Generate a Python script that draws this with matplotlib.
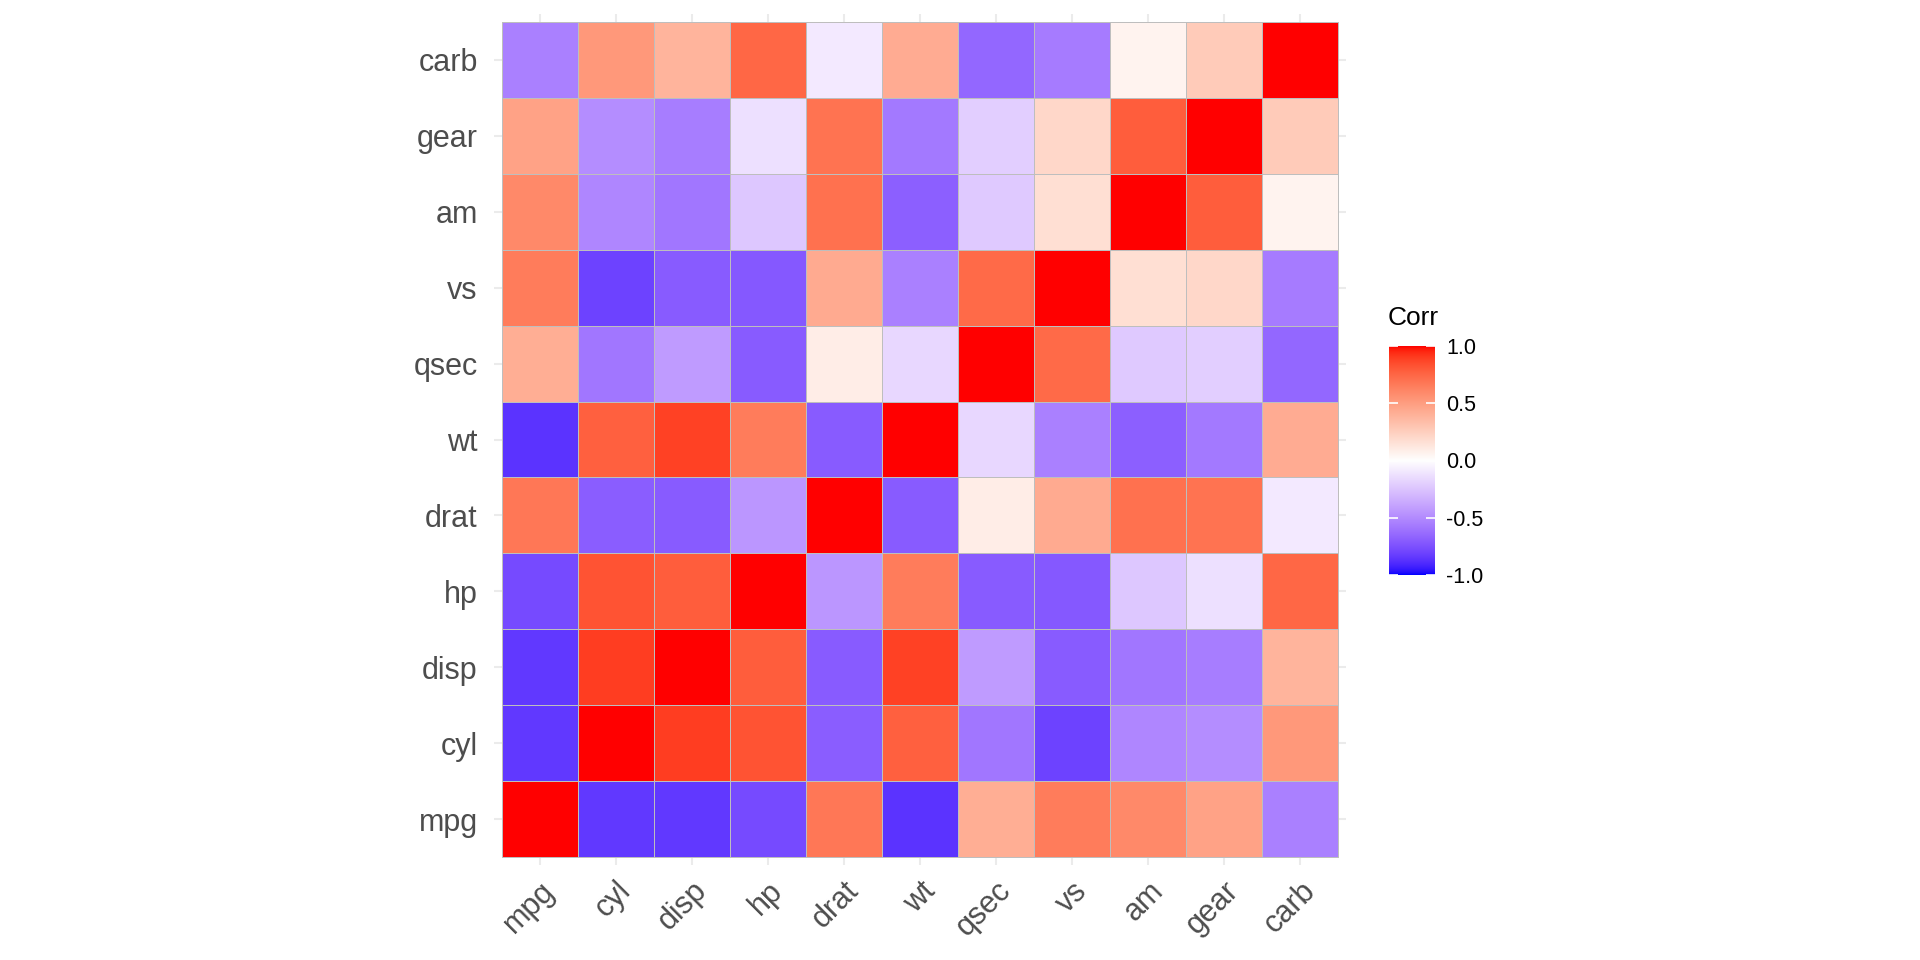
import numpy as np
import matplotlib
matplotlib.use("Agg")
import matplotlib.pyplot as plt
from matplotlib.colors import ListedColormap, Normalize

plt.rcParams['font.family'] = ['Liberation Sans', 'DejaVu Sans']

variables = ["mpg", "cyl", "disp", "hp", "drat", "wt", "qsec", "vs", "am", "gear", "carb"]
corr_rows = [
    [1.00, -0.85, -0.85, -0.78, 0.68, -0.87, 0.42, 0.66, 0.60, 0.48, -0.55],
    [-0.85, 1.00, 0.90, 0.83, -0.70, 0.78, -0.59, -0.81, -0.52, -0.49, 0.53],
    [-0.85, 0.90, 1.00, 0.79, -0.71, 0.89, -0.43, -0.71, -0.59, -0.56, 0.39],
    [-0.78, 0.83, 0.79, 1.00, -0.45, 0.66, -0.71, -0.72, -0.24, -0.13, 0.75],
    [0.68, -0.70, -0.71, -0.45, 1.00, -0.71, 0.09, 0.44, 0.71, 0.70, -0.09],
    [-0.87, 0.78, 0.89, 0.66, -0.71, 1.00, -0.17, -0.55, -0.69, -0.58, 0.43],
    [0.42, -0.59, -0.43, -0.71, 0.09, -0.17, 1.00, 0.74, -0.23, -0.21, -0.66],
    [0.66, -0.81, -0.71, -0.72, 0.44, -0.55, 0.74, 1.00, 0.17, 0.21, -0.57],
    [0.60, -0.52, -0.59, -0.24, 0.71, -0.69, -0.23, 0.17, 1.00, 0.79, 0.06],
    [0.48, -0.49, -0.56, -0.13, 0.70, -0.58, -0.21, 0.21, 0.79, 1.00, 0.27],
    [-0.55, 0.53, 0.39, 0.75, -0.09, 0.43, -0.66, -0.57, 0.06, 0.27, 1.00],
]
legend_ticks = [-1.0, -0.5, 0.0, 0.5, 1.0]
legend_title = "Corr"

# ---- Lab interpolation (like ggplot2 scale_fill_gradient2) ----
WHITE_REF = np.array([0.95047, 1.0, 1.08883])
M = np.array([[0.4124564, 0.3575761, 0.1804375],
              [0.2126729, 0.7151522, 0.0721750],
              [0.0193339, 0.1191920, 0.9503041]])
Minv = np.linalg.inv(M)

def srgb_to_lab(rgb):
    rgb = np.asarray(rgb, float)
    lin = np.where(rgb <= 0.04045, rgb / 12.92, ((rgb + 0.055) / 1.055) ** 2.4)
    xyz = M @ lin / WHITE_REF
    f = np.where(xyz > (6/29) ** 3, np.cbrt(xyz), xyz / (3 * (6/29) ** 2) + 4/29)
    return np.array([116 * f[1] - 16, 500 * (f[0] - f[1]), 200 * (f[1] - f[2])])

def lab_to_srgb(lab):
    L, a, b = lab
    fy = (L + 16) / 116
    fx = fy + a / 500
    fz = fy - b / 200
    f = np.array([fx, fy, fz])
    xyz = np.where(f > 6/29, f ** 3, 3 * (6/29) ** 2 * (f - 4/29)) * WHITE_REF
    lin = Minv @ xyz
    lin = np.clip(lin, 0, 1)
    rgb = np.where(lin <= 0.0031308, 12.92 * lin, 1.055 * lin ** (1/2.4) - 0.055)
    return np.clip(rgb, 0, 1)

lab_low = srgb_to_lab([0, 0, 1])
lab_mid = srgb_to_lab([1, 1, 1])
lab_high = srgb_to_lab([1, 0, 0])
N = 512
cols = []
for t in np.linspace(-1, 1, N):
    if t < 0:
        s = t + 1
        lab = lab_low + (lab_mid - lab_low) * s
    else:
        lab = lab_mid + (lab_high - lab_mid) * t
    cols.append(lab_to_srgb(lab))
cmap = ListedColormap(cols)
norm = Normalize(-1, 1)

# ---- figure ----
fig = plt.figure(figsize=(19.2, 9.6), dpi=100)
ax = fig.add_axes([494.4 / 1920, (960 - 864.6) / 960, 851.2 / 1920, 850.2 / 960])

C = np.array(corr_rows)
n = len(variables)
edges = np.arange(n + 1) - 0.5
ax.pcolormesh(edges, edges, C, cmap=cmap, norm=norm, edgecolors="#BEBEBE",
              linewidth=0.5, zorder=2)
ax.set_xlim(-0.6, n - 0.4)
ax.set_ylim(-0.6, n - 0.4)
ax.set_xticks(np.arange(n))
ax.set_yticks(np.arange(n))
ax.set_yticklabels(variables, fontsize=22, color="#4D4D4D")
ax.set_xticklabels(variables, fontsize=22, color="#4D4D4D", rotation=45,
                   ha="right", va="top", rotation_mode="anchor")
ax.tick_params(axis="y", length=0, pad=12)
ax.tick_params(axis="x", length=0, pad=8)
ax.grid(True, color="#EBEBEB", linewidth=1.5, zorder=0)
ax.set_axisbelow(True)
for sp in ax.spines.values():
    sp.set_visible(False)

# ---- colorbar ----
cax = fig.add_axes([1389 / 1920, (960 - 575) / 960, 46 / 1920, 229 / 960])
grad = np.linspace(-1, 1, 400).reshape(-1, 1)
cax.imshow(grad, cmap=cmap, norm=norm, aspect="auto", origin="lower",
           extent=[0, 1, -1, 1])
for tv in legend_ticks:
    cax.plot([0, 0.2], [tv, tv], color="white", lw=1.2, solid_capstyle="butt")
    cax.plot([0.8, 1], [tv, tv], color="white", lw=1.2, solid_capstyle="butt")
cax.set_xlim(0, 1)
cax.set_ylim(-1, 1)
cax.set_xticks([])
cax.yaxis.tick_right()
cax.set_yticks(legend_ticks)
cax.set_yticklabels([f"{v:.1f}" for v in legend_ticks], fontsize=15.5, color="black")
cax.tick_params(axis="y", length=0, pad=8)
for sp in cax.spines.values():
    sp.set_visible(False)
fig.text(1388 / 1920, 1 - 318 / 960, legend_title, fontsize=19, color="black",
         ha="left", va="center")

fig.savefig("out.png", dpi=100, facecolor="white")
